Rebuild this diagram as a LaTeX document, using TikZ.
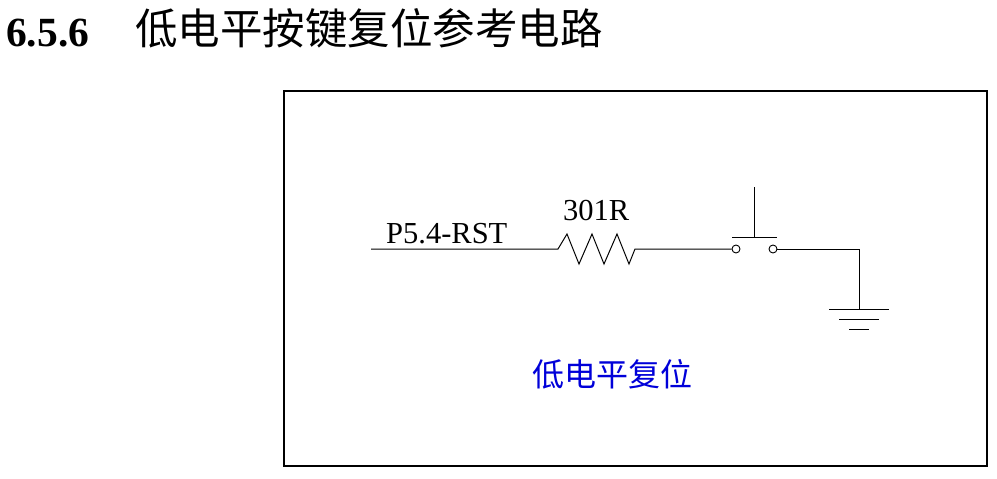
\documentclass[tikz,border=0pt]{standalone}
\usepackage{fontspec}
\setmainfont{Liberation Serif}
\newfontfamily\cjk{Noto Sans CJK SC}
\begin{document}
\begin{tikzpicture}[x=1pt,y=-1pt,
  wire/.style={line width=1pt,black},
  frame/.style={line width=2pt,black},
  pad/.style={circle,draw,line width=0.9pt,inner sep=0pt,minimum size=8pt},
  lbl/.style={inner sep=0pt,font=\fontsize{30.5}{36}\selectfont}]
\useasboundingbox (0,0) rectangle (997,479);
% title
\node[inner sep=0pt,anchor=base west,font=\fontsize{41.5}{48}\selectfont\bfseries] (num) at (6,46) {6.5.6};
\node[inner sep=0pt,anchor=base west,font=\fontsize{42.5}{50}\selectfont\cjk] (title) at (135,44) {低电平按键复位参考电路};
% frame
\draw[frame] (284,91) rectangle (987,466);
% coordinates
\coordinate (pin) at (371,249);
\coordinate (r1) at (558,249);
\coordinate (r2) at (635,249);
\node[pad] (s1) at (736,249) {};
\node[pad] (s2) at (773,249) {};
\coordinate (corner) at (859,249);
\coordinate (gtop) at (859,309);
\coordinate (barL) at (732,237);
\coordinate (barR) at (777,237);
\coordinate (stemB) at (754.5,237);
\coordinate (stemT) at (754.5,187);
\coordinate (g1L) at (829,309);
\coordinate (g1R) at (889,309);
\coordinate (g2L) at (839,319);
\coordinate (g2R) at (879,319);
\coordinate (g3L) at (849,329);
\coordinate (g3R) at (869,329);
% labels
\node[lbl,anchor=base west] (pinlbl) at (386,243) {P5.4-RST};
\node[lbl,anchor=base west] (rlbl) at (563,220) {301R};
\node[inner sep=0pt,anchor=base west,text=blue!85!black,font=\fontsize{32}{36}\selectfont\cjk] (note) at (532,386) {低电平复位};
% wires
\draw[wire] (pin) -- (r1) -- (567,234) -- (579,264) -- (592,234) -- (604,264) -- (617,234) -- (629,264) -- (r2) -- (s1.west);
\draw[wire] (s2.east) -- (corner) -- (gtop);
\draw[wire] (barL) -- (barR);
\draw[wire] (stemB) -- (stemT);
\draw[wire] (g1L) -- (g1R);
\draw[wire] (g2L) -- (g2R);
\draw[wire] (g3L) -- (g3R);
\end{tikzpicture}
\end{document}
